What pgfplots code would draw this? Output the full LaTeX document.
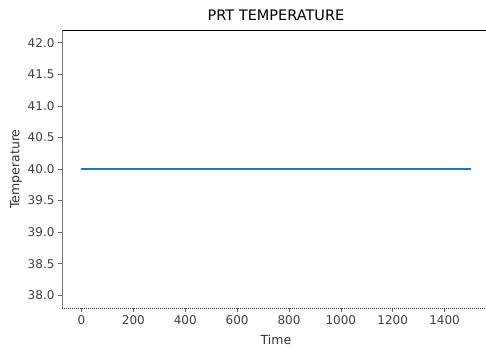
\documentclass[border=0pt]{standalone}
\usepackage{fontspec}
\setmainfont{DejaVu Sans}
\usepackage{pgfplots}
\pgfplotsset{compat=1.18}
\begin{document}
\begin{tikzpicture}
\begin{scope}
\clip (0,0) rectangle (486pt,349pt);
\begin{axis}[
  at={(62pt,41pt)}, anchor=south west, scale only axis,
  width=428pt, height=278pt,
  xmin=-75, xmax=1575, ymin=37.8, ymax=42.2,
  xtick={0,200,...,1400}, ytick={38,38.5,...,42},
  yticklabel style={/pgf/number format/.cd,fixed,fixed zerofill,precision=1},
  xticklabel style={/pgf/number format/.cd,fixed,precision=0,1000 sep={}},
  /pgf/number format/assume math mode=true,
  tick label style={font=\fontsize{12}{12}\selectfont, text=black!75},
  title={PRT TEMPERATURE},
  title style={font=\fontsize{14.5}{15}\selectfont, at={(rel axis cs:0.5,1)}, anchor=south, yshift=0pt},
  xlabel={Time}, ylabel={Temperature},
  label style={font=\fontsize{12.5}{13}\selectfont, text=black!80},
  xlabel style={yshift=-4pt},
  ylabel style={yshift=-1pt},
  axis line style={draw=none},
  tick style={black!60, line width=0.6pt},
  major tick length=4pt, tick align=outside, xtick pos=bottom, ytick pos=left,
  clip=false,
]
\addplot[color={rgb,255:red,31;green,119;blue,180}, line width=2pt] coordinates {(0,40) (1500,40)};
\draw[black, line width=0.8pt] (rel axis cs:0,1) -- (rel axis cs:1,1);
\draw[black!55, line width=0.8pt] (rel axis cs:0,0) -- (rel axis cs:0,1);
\draw[black!80, line width=0.8pt, dash pattern=on 1pt off 1pt] (rel axis cs:0,0) -- (rel axis cs:1,0);
\end{axis}
\end{scope}
\pgfresetboundingbox
\useasboundingbox (0,0) rectangle (486pt,349pt);
\end{tikzpicture}
\end{document}
